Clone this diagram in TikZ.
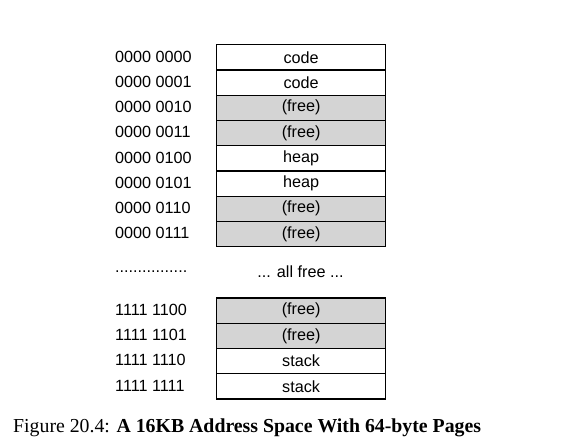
\documentclass[tikz,border=0pt]{standalone}
\usepackage{fontspec}
\setmainfont{Liberation Serif}
\newfontfamily\labelfont{Liberation Sans}
\begin{document}
\begin{tikzpicture}[x=1pt,y=-1pt,
  txt/.style={font=\labelfont\fontsize{16.2}{19}\selectfont},
  page/.style={draw=black, line width=1.3pt, minimum width=169pt, minimum height=25.25pt,
    inner sep=0pt, txt, anchor=north west},
  usedpage/.style={page, fill=white},
  freepage/.style={page, fill=black!17},
  addr/.style={anchor=west, inner sep=0pt, txt}]
\useasboundingbox (0,0) rectangle (576,445);
% upper part of the address space
\foreach \i/\a/\t/\s in {0/0000 0000/code/usedpage, 1/0000 0001/code/usedpage,
    2/0000 0010/(free)/freepage, 3/0000 0011/(free)/freepage,
    4/0000 0100/heap/usedpage, 5/0000 0101/heap/usedpage,
    6/0000 0110/(free)/freepage, 7/0000 0111/(free)/freepage} {
  \node[\s] (p\i) at (216, 44+25.25*\i) {\t};
  \node[addr] (a\i) at (115, 44+25.25*\i+12.6) {\a};
}
% gap
\node[addr] (adots) at (115, 271.5) {................};
\node[inner sep=0pt, txt] (gap) at (300.5, 271.5) {... all free ...};
% lower part of the address space
\foreach \i/\a/\t/\s in {0/1111 1100/(free)/freepage, 1/1111 1101/(free)/freepage,
    2/1111 1110/stack/usedpage, 3/1111 1111/stack/usedpage} {
  \node[\s] (q\i) at (216, 297.3+25.25*\i) {\t};
  \node[addr] (b\i) at (115, 297.3+25.25*\i+12.6) {\a};
}
% caption
\node[anchor=west, inner sep=0pt, font=\fontsize{19.8}{23}\selectfont] (cap) at (13, 428)
  {Figure 20.4: \textbf{A 16KB Address Space With 64-byte Pages}};
\end{tikzpicture}
\end{document}
